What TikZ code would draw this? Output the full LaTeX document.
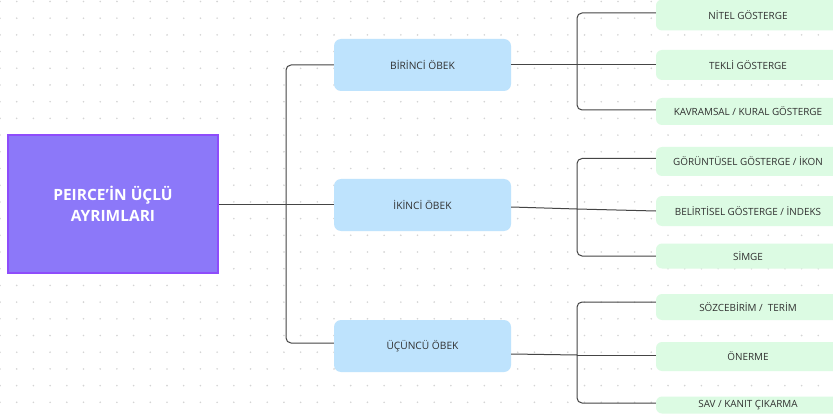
\documentclass[tikz,border=0pt]{standalone}
\usepackage{fontspec}
\setmainfont{Open Sans}
\usetikzlibrary{positioning}
\definecolor{rootfill}{HTML}{8C78F9}
\definecolor{rootline}{HTML}{8E4CFB}
\definecolor{obekfill}{HTML}{BEE3FD}
\definecolor{leaffill}{HTML}{DCFBE3}
\definecolor{dotgray}{HTML}{D4D4D4}
\definecolor{linegray}{HTML}{454545}
\definecolor{textgray}{HTML}{303030}

\begin{document}
\begin{tikzpicture}[x=1pt,y=-1pt,
  rootbox/.style={draw=rootline, line width=1.6pt, fill=rootfill, minimum width=210, minimum height=138, inner sep=0pt, text=white, align=center, font=\bfseries\fontsize{15.5}{21}\selectfont},
  obekbox/.style={fill=obekfill, rounded corners=7, minimum width=177, minimum height=52, inner sep=0pt, text=textgray, font=\fontsize{10.2}{12}\selectfont},
  leafbox/.style={fill=leaffill, rounded corners=6, minimum width=184, inner sep=0pt, text=textgray, font=\fontsize{9.9}{12}\selectfont},
  conn/.style={draw=linegray, line width=1pt, rounded corners=5}]
\clip (0,0) rectangle (833,417);
\fill [white] (0,0) rectangle (833,417);

% dot grid
\foreach \i in {0,...,50}
  \foreach \j in {0,...,25}
    \fill [dotgray] (16.7*\i,1.5+16.7*\j) circle (0.9);

% root and groups
\node [rootbox] (root) at (113,204) {PEIRCE'İN ÜÇLÜ\\AYRIMLARI};
\node [obekbox] (g1) at (422.5,65) {BİRİNCİ ÖBEK};
\node [obekbox] (g2) at (422.5,205) {İKİNCİ ÖBEK};
\node [obekbox] (g3) at (422.5,346) {ÜÇÜNCÜ ÖBEK};

% leaves
\node [leafbox, minimum height=31] (l11) at (748,15) {NİTEL GÖSTERGE};
\node [leafbox, minimum height=30] (l12) at (748,65) {TEKLİ GÖSTERGE};
\node [leafbox, minimum height=27] (l13) at (748,111.5) {KAVRAMSAL / KURAL GÖSTERGE};
\node [leafbox, minimum height=29] (l21) at (748,161.5) {GÖRÜNTÜSEL GÖSTERGE / İKON};
\node [leafbox, minimum height=30] (l22) at (748,211) {BELİRTİSEL GÖSTERGE / İNDEKS};
\node [leafbox, minimum height=25] (l23) at (748,256) {SİMGE};
\node [leafbox, minimum height=26] (l31) at (748,307) {SÖZCEBİRİM /\ \ TERİM};
\node [leafbox, minimum height=29] (l32) at (748,356.5) {ÖNERME};
\node [leafbox, minimum height=17] (l33) at (748,405) {SAV / KANIT ÇIKARMA};

% connectors
\coordinate (rj) at (286,204);
\draw [conn] (root.east) -- (rj);
\draw [conn] (rj) |- (g1.west);
\draw [conn] (rj) -- ([yshift=1]g2.west);
\draw [conn] (rj) |- ([yshift=3]g3.west);

\coordinate (j1) at (577,65);
\draw [conn] (g1.east) -- (j1);
\draw [conn] (j1) |- ([yshift=2]l11.west);
\draw [conn] (j1) -- (l12.west);
\draw [conn] (j1) |- ([yshift=1.5]l13.west);

\coordinate (j2) at (577,209);
\draw [conn] ([yshift=-2]g2.east) -- (j2);
\draw [conn] (j2) |- ([yshift=3]l21.west);
\draw [conn] (j2) -- (l22.west);
\draw [conn] (j2) |- (l23.west);

\coordinate (j3) at (577,355);
\draw [conn] ([yshift=-8]g3.east) -- (j3);
\draw [conn] (j3) |- ([yshift=5]l31.west);
\draw [conn] (j3) -- ([yshift=1.5]l32.west);
\draw [conn] (j3) |- ([yshift=2]l33.west);
\end{tikzpicture}
\end{document}
